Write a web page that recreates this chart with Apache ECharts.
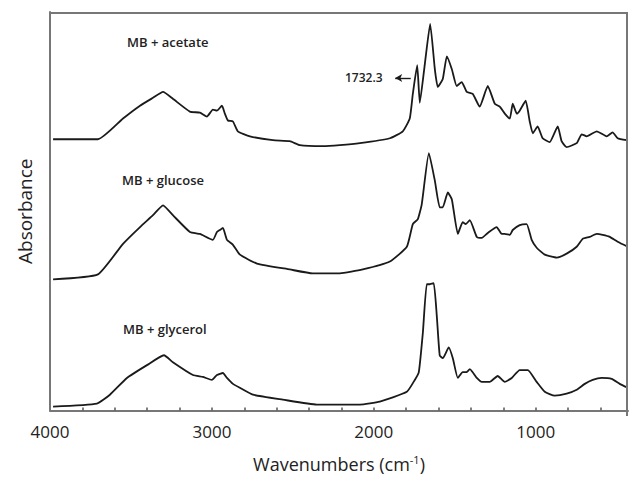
<!DOCTYPE html>
<html><head><meta charset="utf-8">
<script src="https://cdn.jsdelivr.net/npm/echarts@6/dist/echarts.min.js"></script>
<style>html,body{margin:0;padding:0;background:#fff}#c{width:633px;height:478px}</style>
</head><body><div id="c"></div>
<script>
// Wavenumber (cm-1) and absorbance (arbitrary units, spectra offset vertically)
const acetate = [
[3981,2.75],[3704,2.75],[3549,2.96],[3444,3.09],[3364,3.17],[3302,3.23],[3241,3.16],[3136,3.03],[3074,3.02],[3031,2.98],
[2994,3.05],[2969,3.04],[2938,3.09],[2920,3.01],[2901,2.94],[2870,2.93],[2840,2.83],[2765,2.78],[2623,2.74],[2519,2.73],
[2457,2.69],[2315,2.68],[2210,2.69],[2086,2.71],[1901,2.76],[1821,2.83],[1778,2.96],[1759,3.21],[1732,3.50],[1716,3.12],
[1685,3.51],[1652,3.92],[1623,3.46],[1605,3.28],[1574,3.36],[1549,3.59],[1518,3.46],[1488,3.29],[1457,3.33],[1426,3.23],
[1389,3.21],[1346,3.08],[1296,3.29],[1253,3.11],[1222,3.08],[1191,3.01],[1160,2.96],[1142,3.11],[1117,3.01],[1099,3.04],
[1062,3.14],[1037,2.93],[1018,2.81],[988,2.88],[957,2.76],[914,2.72],[864,2.88],[840,2.73],[809,2.67],[747,2.71],
[716,2.80],[685,2.78],[623,2.83],[562,2.78],[525,2.82],[494,2.76],[438,2.74]
];
const glucose = [
[3981,1.33],[3704,1.38],[3549,1.69],[3444,1.86],[3364,1.98],[3302,2.08],[3241,1.98],[3136,1.81],[3074,1.79],[2994,1.73],
[2969,1.81],[2951,1.83],[2932,1.85],[2907,1.73],[2870,1.68],[2827,1.58],[2722,1.49],[2519,1.43],[2377,1.39],[2210,1.39],
[2068,1.43],[1901,1.51],[1796,1.66],[1759,1.89],[1728,1.94],[1704,2.09],[1660,2.61],[1623,2.33],[1593,2.06],[1574,2.06],
[1543,2.21],[1518,2.14],[1481,1.79],[1451,1.91],[1432,1.89],[1407,1.93],[1364,1.76],[1333,1.75],[1296,1.80],[1241,1.86],
[1210,1.79],[1191,1.79],[1160,1.78],[1142,1.83],[1099,1.88],[1056,1.89],[1025,1.73],[994,1.65],[944,1.58],[870,1.55],
[809,1.59],[747,1.66],[710,1.74],[667,1.76],[623,1.79],[586,1.78],[543,1.76],[494,1.71],[432,1.66]
];
const glycerol = [
[3981,0.04],[3710,0.07],[3630,0.16],[3525,0.33],[3401,0.46],[3296,0.56],[3241,0.49],[3117,0.36],[3056,0.34],[3000,0.31],
[2969,0.36],[2932,0.38],[2907,0.33],[2870,0.27],[2827,0.23],[2747,0.16],[2562,0.11],[2352,0.06],[2086,0.06],[1963,0.09],
[1796,0.19],[1747,0.31],[1722,0.39],[1697,0.79],[1673,1.28],[1654,1.28],[1630,1.29],[1611,0.96],[1593,0.56],[1574,0.53],
[1537,0.64],[1512,0.53],[1481,0.33],[1451,0.39],[1426,0.39],[1407,0.42],[1364,0.33],[1333,0.29],[1284,0.29],[1235,0.35],
[1191,0.29],[1148,0.33],[1099,0.41],[1049,0.41],[994,0.29],[944,0.19],[883,0.15],[809,0.17],[747,0.21],[697,0.27],
[648,0.31],[593,0.33],[531,0.32],[481,0.27],[432,0.23]
];
const seriesNames = ['MB + acetate', 'MB + glucose', 'MB + glycerol'];
const xLabelValues = [4000, 3000, 2000, 1000];
const xTickValues = [3800,3600,3400,3200,3000,2800,2600,2400,2200,2000,1800,1600,1400,1200,1000,800,600];
const peakLabel = '1732.3';
const X_MIN = 430, X_MAX = 4000, Y_MIN = 0, Y_MAX = 4.04;

const GRID = {left: 50, right: 5, top: 12, bottom: 62};
const W = 633, H = 478;

const chart = echarts.init(document.getElementById('c'), null, {renderer: 'svg'});
const lineStyle = {color: '#1a1a1a', width: 1.8};
const mk = (name, data) => ({
  name, type: 'line', data, showSymbol: false, smooth: 0.15, lineStyle, animation: false
});
const s0 = mk(seriesNames[0], acetate);
s0.markLine = {
  silent: true, animation: false, symbol: ['none', 'arrow'], symbolSize: [6, 7],
  lineStyle: {color: '#1a1a1a', width: 1.4, type: 'solid'}, label: {show: false},
  data: [[{coord: [1772, 3.37]}, {coord: [1868, 3.37]}]]
};
const R = W - GRID.right, T = GRID.top + 1, B = H - GRID.bottom;
chart.setOption({
  backgroundColor: '#fff',
  animation: false,
  grid: GRID,
  xAxis: {
    type: 'value', inverse: true, min: X_MIN, max: X_MAX,
    name: '{a|Wavenumbers (cm}{s|-1}{a|)}', nameLocation: 'middle', nameGap: 43,
    nameTextStyle: {rich: {
      a: {fontFamily: 'Open Sans', fontSize: 18, color: '#222'},
      s: {fontFamily: 'Open Sans', fontSize: 11, color: '#222', verticalAlign: 'top', padding: [0, 0, 10, 0]}
    }},
    axisLine: {show: true, onZero: false, lineStyle: {color: '#777', width: 2}},
    axisTick: {show: true, inside: true, length: 3, customValues: xTickValues, lineStyle: {color: '#555', width: 1.5}},
    axisLabel: {customValues: xLabelValues, formatter: v => String(v), fontFamily: 'Open Sans', fontSize: 17, color: '#222', margin: 12},
    splitLine: {show: false}
  },
  yAxis: {
    type: 'value', min: Y_MIN, max: Y_MAX,
    name: 'Absorbance', nameLocation: 'middle', nameGap: 16, nameRotate: 90,
    nameTextStyle: {fontFamily: 'Open Sans', fontSize: 19, color: '#222'},
    axisLine: {show: true, onZero: false, lineStyle: {color: '#777', width: 2}},
    axisTick: {show: false}, axisLabel: {show: false}, splitLine: {show: false}
  },
  graphic: {elements: [
    {type: 'polyline', id: 'frame', z: 100, silent: true,
     shape: {points: [[GRID.left, T], [R - 1, T], [R - 1, B]]},
     style: {fill: 'none', stroke: '#777777', lineWidth: 2}},
    {type: 'text', left: 127, top: 35, style: {text: seriesNames[0], fontFamily: 'Open Sans', fontSize: 13, fontWeight: 600, fill: '#222'}},
    {type: 'text', left: 122, top: 173, style: {text: seriesNames[1], fontFamily: 'Open Sans', fontSize: 13, fontWeight: 600, fill: '#222'}},
    {type: 'text', left: 123, top: 322, style: {text: seriesNames[2], fontFamily: 'Open Sans', fontSize: 13, fontWeight: 600, fill: '#222'}},
    {type: 'text', left: 345, top: 71, style: {text: peakLabel, fontFamily: 'Open Sans', fontSize: 12, fontWeight: 600, fill: '#222'}}
  ]},
  series: [s0, mk(seriesNames[1], glucose), mk(seriesNames[2], glycerol)]
});
</script></body></html>
